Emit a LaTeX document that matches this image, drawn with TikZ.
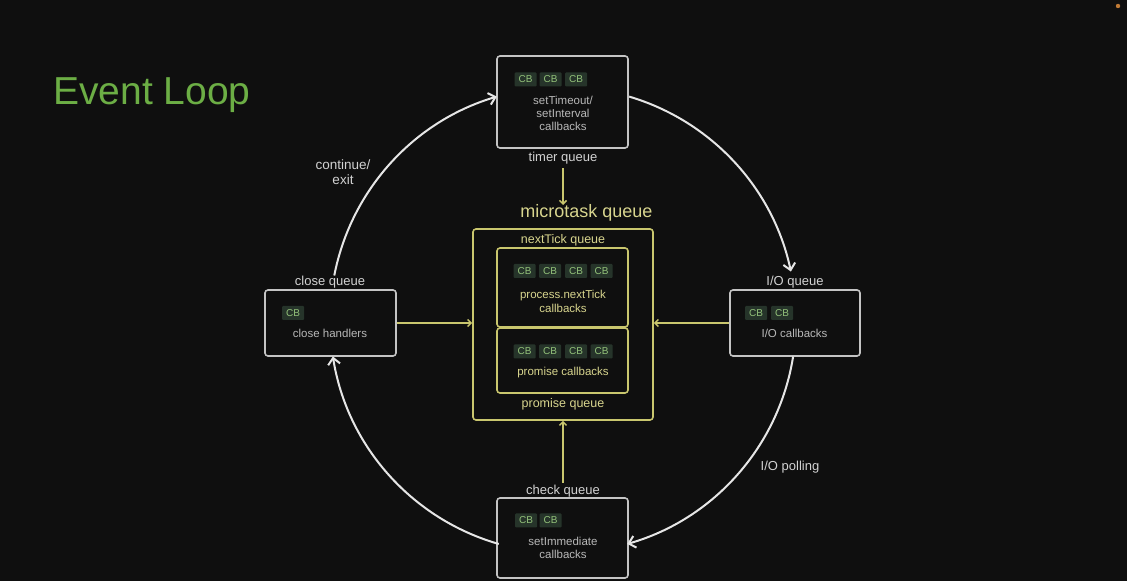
\documentclass[tikz,border=0pt]{standalone}
\usepackage{fontspec}
\setmainfont{Liberation Sans}
\usetikzlibrary{arrows.meta}
\definecolor{bg}{HTML}{0F0F0F}
\definecolor{boxline}{HTML}{C4C4C4}
\definecolor{arcc}{HTML}{E6E6E6}
\definecolor{ylw}{HTML}{C9C66E}
\definecolor{ytxt}{HTML}{D8D58E}
\definecolor{lblc}{HTML}{D2D2D2}
\definecolor{btxc}{HTML}{B8B8B8}
\definecolor{chipfill}{HTML}{26342A}
\definecolor{chiptext}{HTML}{93C27A}
\definecolor{titlec}{HTML}{6CAE45}
\definecolor{dotc}{HTML}{C07A35}
\begin{document}
\begin{tikzpicture}[x=1pt,y=1pt,
  box/.style={draw=boxline, line width=1.6pt, rounded corners=3pt, rectangle, inner sep=0pt},
  ybox/.style={draw=ylw, line width=1.6pt, rounded corners=3pt, rectangle, inner sep=0pt},
  chip/.style={fill=chipfill, text=chiptext, font=\fontsize{10}{10}\selectfont, minimum width=22pt, minimum height=14pt, inner sep=0pt, rounded corners=1pt},
  lbl/.style={text=lblc, font=\fontsize{13}{15}\selectfont, inner sep=0pt, align=center},
  btxt/.style={text=btxc, font=\fontsize{11.5}{12.8}\selectfont, align=center, inner sep=0pt},
  ytx/.style={text=ytxt, font=\fontsize{11.5}{13.5}\selectfont, align=center, inner sep=0pt},
  loop/.style={draw=arcc, line width=2pt, -{Straight Barb[length=6.5pt,width=12pt]}},
  yarr/.style={draw=ylw, line width=1.5pt, -{Straight Barb[length=3.5pt,width=7pt]}}
]
\fill[bg] (0,0) rectangle (1127,581);
\fill[dotc] (1118,575) circle (2.2);

% title
\node[anchor=base west, text=titlec, font=\fontsize{39}{40}\selectfont, inner sep=0pt] (title) at (53,476) {Event Loop};

% circle center
\coordinate (c) at (563,261);

% timer queue
\node[box, minimum width=131pt, minimum height=92pt] (timer) at (562.5,479) {};
\node[chip] (t1) at (525.5,501.5) {CB};
\node[chip] (t2) at (550.5,501.5) {CB};
\node[chip] (t3) at (576,501.5) {CB};
\node[btxt] (ttx) at (563,467.5) {setTimeout/\\setInterval\\callbacks};
\node[lbl] (tq) at (563,423) {timer queue};

% microtask
\node[text=ytxt, font=\fontsize{18}{20}\selectfont, inner sep=0pt] (mq) at (586.5,368) {microtask queue};
\node[ybox, minimum width=180pt, minimum height=191pt] (micro) at (563,256.5) {};
\node[ytx, font=\fontsize{12.5}{14}\selectfont] (ntq) at (563,341) {nextTick queue};
\node[ybox, minimum width=131pt, minimum height=79pt] (nt) at (562.5,293.5) {};
\node[chip] (n1) at (524.5,310) {CB};
\node[chip] (n2) at (550,310) {CB};
\node[chip] (n3) at (576,310) {CB};
\node[chip] (n4) at (601.5,310) {CB};
\node[ytx] (ntx) at (563,279.5) {process.nextTick\\callbacks};
\node[ybox, minimum width=131pt, minimum height=65pt] (pr) at (562.5,220.5) {};
\node[chip] (p1) at (524.5,229.5) {CB};
\node[chip] (p2) at (550,229.5) {CB};
\node[chip] (p3) at (576,229.5) {CB};
\node[chip] (p4) at (601.5,229.5) {CB};
\node[ytx] (ptx) at (563,208) {promise callbacks};
\node[ytx, font=\fontsize{12.5}{14}\selectfont] (prq) at (563,177) {promise queue};

% close queue
\node[box, minimum width=131pt, minimum height=66pt] (close) at (330.5,258) {};
\node[chip] (c1) at (293,268) {CB};
\node[btxt] (ctx) at (330,248) {close handlers};
\node[lbl] (cq) at (330,299) {close queue};

% I/O queue
\node[box, minimum width=130pt, minimum height=66pt] (io) at (795,258) {};
\node[chip] (i1) at (756,268) {CB};
\node[chip] (i2) at (782,268) {CB};
\node[btxt] (itx) at (794.5,248) {I/O callbacks};
\node[lbl] (iq) at (795,299) {I/O queue};

% check queue
\node[box, minimum width=131pt, minimum height=80pt] (check) at (562.5,43) {};
\node[chip] (k1) at (526,60.5) {CB};
\node[chip] (k2) at (550.5,60.5) {CB};
\node[btxt] (ktx) at (563,33) {setImmediate\\callbacks};
\node[lbl] (kq) at (563,90) {check queue};

% side labels
\node[lbl, font=\fontsize{13.5}{15}\selectfont] (cont) at (343,409) {continue/\\exit};
\node[lbl] (poll) at (790,114) {I/O polling};

% yellow arrows
\coordinate (mtop) at (563,376);
\draw[yarr] (tq.south) ++(0,-4) -- (mtop);
\draw[yarr] (close.east) -- (close.east -| micro.west);
\draw[yarr] (io.west) -- (io.west -| micro.east);
\draw[yarr] (kq.north) ++(0,2) -- (micro.south);

% loop arcs
\draw[loop] ([shift={(169:233)}]c) arc[start angle=169, end angle=106.5, radius=233];
\draw[loop] ([shift={(73.5:233)}]c) arc[start angle=73.5, end angle=12, radius=233];
\draw[loop] ([shift={(-9:233)}]c) arc[start angle=-9, end angle=-74, radius=233];
\draw[loop] ([shift={(-106:233)}]c) arc[start angle=-106, end angle=-171, radius=233];
\end{tikzpicture}
\end{document}
